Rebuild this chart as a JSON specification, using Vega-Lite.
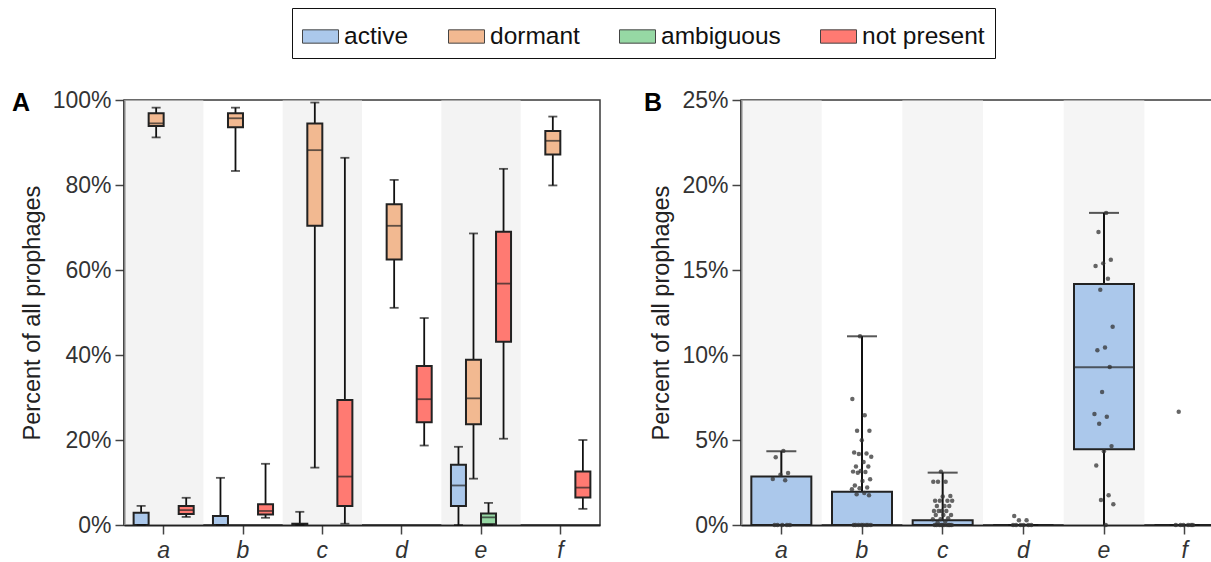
{
  "$schema": "https://vega.github.io/schema/vega-lite/v6.json",
  "autosize": "none",
  "padding": {"left": 124, "top": 100, "right": 1087, "bottom": 462},
  "config": {
    "font": "Liberation Sans",
    "view": {"stroke": "#3a3a3a", "strokeWidth": 1.5},
    "axis": {"domainColor": "#222", "domainWidth": 2, "tickColor": "#444", "tickWidth": 1.5, "tickSize": 9, "labelFontSize": 23, "labelColor": "#333", "titleFontSize": 23.5, "titleFontWeight": "normal", "titleColor": "#222", "grid": false, "labelPadding": 4, "zindex": 1}
  },
  "datasets": {
    "bands": [{"category": "a"}, {"category": "c"}, {"category": "e"}],
    "stats": [
      {"category": "a", "status": "active", "lower": 0, "q1": 0, "median": 0, "q3": 2.9, "upper": 4.5},
      {"category": "a", "status": "dormant", "lower": 91.2, "q1": 93.9, "median": 94.5, "q3": 96.9, "upper": 98.2},
      {"category": "a", "status": "not present", "lower": 1.9, "q1": 2.6, "median": 3.5, "q3": 4.5, "upper": 6.4},
      {"category": "b", "status": "active", "lower": 0, "q1": 0, "median": 0, "q3": 2.1, "upper": 11.1},
      {"category": "b", "status": "dormant", "lower": 83.3, "q1": 93.6, "median": 95.7, "q3": 96.9, "upper": 98.2},
      {"category": "b", "status": "not present", "lower": 1.7, "q1": 2.5, "median": 3.3, "q3": 4.9, "upper": 14.4},
      {"category": "c", "status": "active", "lower": 0, "q1": 0, "median": 0, "q3": 0.3, "upper": 3.1},
      {"category": "c", "status": "dormant", "lower": 13.5, "q1": 70.4, "median": 88.2, "q3": 94.5, "upper": 99.4},
      {"category": "c", "status": "not present", "lower": 0.3, "q1": 4.5, "median": 11.4, "q3": 29.4, "upper": 86.4},
      {"category": "d", "status": "dormant", "lower": 51.1, "q1": 62.5, "median": 70.4, "q3": 75.5, "upper": 81.2},
      {"category": "d", "status": "not present", "lower": 18.7, "q1": 24.2, "median": 29.6, "q3": 37.4, "upper": 48.7},
      {"category": "e", "status": "active", "lower": 0, "q1": 4.5, "median": 9.3, "q3": 14.2, "upper": 18.4},
      {"category": "e", "status": "dormant", "lower": 10.9, "q1": 23.7, "median": 29.8, "q3": 38.9, "upper": 68.6},
      {"category": "e", "status": "ambiguous", "lower": 0, "q1": 0.2, "median": 1.8, "q3": 2.7, "upper": 5.2},
      {"category": "e", "status": "not present", "lower": 20.3, "q1": 43.1, "median": 56.8, "q3": 69.0, "upper": 83.8},
      {"category": "f", "status": "dormant", "lower": 79.9, "q1": 87.2, "median": 90.4, "q3": 92.7, "upper": 96.1},
      {"category": "f", "status": "not present", "lower": 3.8, "q1": 6.5, "median": 8.8, "q3": 12.6, "upper": 20.0}
    ],
    "bstats": [
      {"category": "a", "status": "active", "lower": 0, "q1": 0, "median": 0, "q3": 2.85, "upper": 4.34},
      {"category": "b", "status": "active", "lower": 0, "q1": 0, "median": 0, "q3": 1.95, "upper": 11.1},
      {"category": "c", "status": "active", "lower": 0, "q1": 0, "median": 0, "q3": 0.28, "upper": 3.08},
      {"category": "d", "status": "active", "lower": 0, "q1": 0, "median": 0, "q3": 0, "upper": 0},
      {"category": "e", "status": "active", "lower": 0, "q1": 4.46, "median": 9.28, "q3": 14.17, "upper": 18.36},
      {"category": "f", "status": "active", "lower": 0, "q1": 0, "median": 0, "q3": 0, "upper": 0}
    ],
    "points": [
      {"category": "a", "value": 4.36}, {"category": "a", "value": 3.98}, {"category": "a", "value": 3.06}, {"category": "a", "value": 2.95}, {"category": "a", "value": 2.7}, {"category": "a", "value": 2.63},
      {"category": "a", "value": 0}, {"category": "a", "value": 0}, {"category": "a", "value": 0}, {"category": "a", "value": 0}, {"category": "a", "value": 0},
      {"category": "b", "value": 11.1}, {"category": "b", "value": 7.41}, {"category": "b", "value": 6.45}, {"category": "b", "value": 5.54}, {"category": "b", "value": 5.54}, {"category": "b", "value": 4.99},
      {"category": "b", "value": 4.26}, {"category": "b", "value": 4.2}, {"category": "b", "value": 4.17}, {"category": "b", "value": 4.01}, {"category": "b", "value": 3.71}, {"category": "b", "value": 3.44},
      {"category": "b", "value": 3.44}, {"category": "b", "value": 3.18}, {"category": "b", "value": 3.14}, {"category": "b", "value": 3.12}, {"category": "b", "value": 3.08}, {"category": "b", "value": 2.69},
      {"category": "b", "value": 2.59}, {"category": "b", "value": 2.32}, {"category": "b", "value": 2.2}, {"category": "b", "value": 2.16}, {"category": "b", "value": 2.1}, {"category": "b", "value": 1.88},
      {"category": "b", "value": 1.81}, {"category": "b", "value": 1.75},
      {"category": "b", "value": 0}, {"category": "b", "value": 0}, {"category": "b", "value": 0}, {"category": "b", "value": 0}, {"category": "b", "value": 0}, {"category": "b", "value": 0}, {"category": "b", "value": 0}, {"category": "b", "value": 0},
      {"category": "c", "value": 3.14}, {"category": "c", "value": 2.54}, {"category": "c", "value": 2.54}, {"category": "c", "value": 2.54}, {"category": "c", "value": 1.71}, {"category": "c", "value": 1.67},
      {"category": "c", "value": 1.42}, {"category": "c", "value": 1.42}, {"category": "c", "value": 1.42}, {"category": "c", "value": 1.42},
      {"category": "c", "value": 1.12}, {"category": "c", "value": 1.12}, {"category": "c", "value": 1.12},
      {"category": "c", "value": 0.83}, {"category": "c", "value": 0.83}, {"category": "c", "value": 0.83}, {"category": "c", "value": 0.83},
      {"category": "c", "value": 0.59}, {"category": "c", "value": 0.59}, {"category": "c", "value": 0.59},
      {"category": "c", "value": 0.4}, {"category": "c", "value": 0.34}, {"category": "c", "value": 0.34}, {"category": "c", "value": 0.2}, {"category": "c", "value": 0.15},
      {"category": "c", "value": 0}, {"category": "c", "value": 0}, {"category": "c", "value": 0}, {"category": "c", "value": 0}, {"category": "c", "value": 0}, {"category": "c", "value": 0}, {"category": "c", "value": 0}, {"category": "c", "value": 0}, {"category": "c", "value": 0}, {"category": "c", "value": 0},
      {"category": "d", "value": 0.53}, {"category": "d", "value": 0.28}, {"category": "d", "value": 0.28},
      {"category": "d", "value": 0}, {"category": "d", "value": 0}, {"category": "d", "value": 0}, {"category": "d", "value": 0}, {"category": "d", "value": 0}, {"category": "d", "value": 0},
      {"category": "e", "value": 18.36}, {"category": "e", "value": 17.24}, {"category": "e", "value": 15.6}, {"category": "e", "value": 15.39}, {"category": "e", "value": 15.23}, {"category": "e", "value": 14.49},
      {"category": "e", "value": 13.84}, {"category": "e", "value": 11.66}, {"category": "e", "value": 10.44}, {"category": "e", "value": 10.28}, {"category": "e", "value": 9.3}, {"category": "e", "value": 7.82},
      {"category": "e", "value": 6.53}, {"category": "e", "value": 6.37}, {"category": "e", "value": 5.96}, {"category": "e", "value": 4.64}, {"category": "e", "value": 4.34}, {"category": "e", "value": 3.5},
      {"category": "e", "value": 1.75}, {"category": "e", "value": 1.47}, {"category": "e", "value": 1.22}, {"category": "e", "value": 0},
      {"category": "f", "value": 6.66},
      {"category": "f", "value": 0}, {"category": "f", "value": 0}, {"category": "f", "value": 0}, {"category": "f", "value": 0}, {"category": "f", "value": 0}, {"category": "f", "value": 0}
    ]
  },
  "resolve": {"scale": {"x": "independent", "y": "independent", "xOffset": "independent", "fill": "shared"}, "legend": {"fill": "shared"}},
  "spacing": 42,
  "hconcat": [
    {
      "width": 476,
      "height": 425,
      "title": {"text": "A", "anchor": "start", "frame": "group", "dx": -112, "dy": 47, "offset": 0, "fontSize": 25, "fontWeight": "bold", "color": "#000", "baseline": "alphabetic"},
      "layer": [
        {
          "data": {"name": "bands"},
          "mark": {"type": "rect", "color": "#e7e7e7", "opacity": 0.5},
          "encoding": {
            "x": {"field": "category", "type": "nominal", "scale": {"domain": ["a", "b", "c", "d", "e", "f"], "paddingInner": 0, "paddingOuter": 0},
              "axis": {"title": null, "labelAngle": 0, "labelFontStyle": "italic", "labelPadding": 5}}
          }
        },
        {
          "data": {"name": "stats"},
          "mark": {"type": "rule", "color": "#111", "strokeWidth": 1.8},
          "encoding": {
            "x": {"field": "category", "type": "nominal"},
            "xOffset": {"field": "status", "type": "nominal", "scale": {"domain": ["active", "dormant", "ambiguous", "not present"], "paddingOuter": 0.64, "paddingInner": 0}},
            "y": {"field": "lower", "type": "quantitative", "scale": {"domain": [0, 100], "nice": false},
              "axis": {"title": "Percent of all prophages", "values": [0, 20, 40, 60, 80, 100], "labelExpr": "datum.value + '%'", "titlePadding": 8}},
            "y2": {"field": "upper"}
          }
        },
        {
          "data": {"name": "stats"},
          "mark": {"type": "bar", "size": 15, "stroke": "#222", "strokeWidth": 2},
          "encoding": {
            "x": {"field": "category", "type": "nominal"},
            "xOffset": {"field": "status", "type": "nominal"},
            "y": {"field": "q1", "type": "quantitative"},
            "y2": {"field": "q3"},
            "fill": {"field": "status", "type": "nominal",
              "scale": {"domain": ["active", "dormant", "ambiguous", "not present"], "range": ["#abc8eb", "#f2b991", "#96d8a4", "#ff7a72"]},
              "legend": {"orient": "none", "legendX": 168, "legendY": -92, "direction": "horizontal", "title": null,
                "symbolType": "M-1,-0.37H1V0.37H-1Z", "symbolSize": 1296, "symbolStrokeColor": "#444", "symbolStrokeWidth": 1,
                "labelFontSize": 24.5, "labelColor": "#111", "columnPadding": 37, "labelOffset": 5, "padding": 10, "strokeColor": "#111"}}
          }
        },
        {
          "data": {"name": "stats"},
          "mark": {"type": "tick", "size": 15, "thickness": 1.8, "color": "#222"},
          "encoding": {
            "x": {"field": "category", "type": "nominal"},
            "xOffset": {"field": "status", "type": "nominal"},
            "y": {"field": "median", "type": "quantitative"}
          }
        },
        {
          "data": {"name": "stats"},
          "mark": {"type": "tick", "size": 9, "thickness": 1.8, "color": "#111"},
          "encoding": {
            "x": {"field": "category", "type": "nominal"},
            "xOffset": {"field": "status", "type": "nominal"},
            "y": {"field": "upper", "type": "quantitative"}
          }
        },
        {
          "data": {"name": "stats"},
          "mark": {"type": "tick", "size": 9, "thickness": 1.8, "color": "#111"},
          "encoding": {
            "x": {"field": "category", "type": "nominal"},
            "xOffset": {"field": "status", "type": "nominal"},
            "y": {"field": "lower", "type": "quantitative"}
          }
        }
      ]
    },
    {
      "width": 484,
      "height": 425,
      "title": {"text": "B", "anchor": "start", "frame": "group", "dx": -97, "dy": 47, "offset": 0, "fontSize": 25, "fontWeight": "bold", "color": "#000", "baseline": "alphabetic"},
      "resolve": {"scale": {"x": "independent", "xOffset": "independent"}, "axis": {"x": "independent"}},
      "layer": [
        {
          "layer": [
            {
              "data": {"name": "bands"},
              "mark": {"type": "rect", "color": "#ececec", "opacity": 0.5},
              "encoding": {
                "x": {"field": "category", "type": "nominal", "scale": {"domain": ["a", "b", "c", "d", "e", "f"], "paddingInner": 0, "paddingOuter": 0},
                  "axis": {"title": null, "labelAngle": 0, "labelFontStyle": "italic", "labelPadding": 5}}
              }
            },
            {
              "data": {"name": "bstats"},
              "mark": {"type": "rule", "color": "#111", "strokeWidth": 2},
              "encoding": {
                "x": {"field": "category", "type": "nominal"},
                "y": {"field": "lower", "type": "quantitative", "scale": {"domain": [0, 25], "nice": false},
                  "axis": {"title": "Percent of all prophages", "values": [0, 5, 10, 15, 20, 25], "labelExpr": "datum.value + '%'", "titlePadding": 8}},
                "y2": {"field": "upper"}
              }
            },
            {
              "data": {"name": "bstats"},
              "mark": {"type": "bar", "size": 60, "stroke": "#222", "strokeWidth": 2},
              "encoding": {
                "x": {"field": "category", "type": "nominal"},
                "y": {"field": "q1", "type": "quantitative"},
                "y2": {"field": "q3"},
                "fill": {"field": "status", "type": "nominal",
                  "scale": {"domain": ["active", "dormant", "ambiguous", "not present"], "range": ["#abc8eb", "#f2b991", "#96d8a4", "#ff7a72"]},
                  "legend": {"orient": "none", "legendX": 168, "legendY": -92, "direction": "horizontal", "title": null,
                    "symbolType": "M-1,-0.37H1V0.37H-1Z", "symbolSize": 1296, "symbolStrokeColor": "#444", "symbolStrokeWidth": 1,
                    "labelFontSize": 24.5, "labelColor": "#111", "columnPadding": 37, "labelOffset": 5, "padding": 10, "strokeColor": "#111"}}
              }
            },
            {
              "data": {"name": "bstats"},
              "mark": {"type": "tick", "size": 60, "thickness": 1.8, "color": "#222"},
              "encoding": {
                "x": {"field": "category", "type": "nominal"},
                "y": {"field": "median", "type": "quantitative"}
              }
            },
            {
              "data": {"name": "bstats"},
              "mark": {"type": "tick", "size": 30, "thickness": 2, "color": "#111"},
              "encoding": {
                "x": {"field": "category", "type": "nominal"},
                "y": {"field": "upper", "type": "quantitative"}
              }
            }
          ]
        },
        {
          "data": {"name": "points"},
          "transform": [
            {"window": [{"op": "row_number", "as": "rn"}]},
            {"calculate": "((datum.rn * 0.618034) % 1) * 2 - 1", "as": "jit"}
          ],
          "mark": {"type": "circle", "size": 20, "color": "#333", "opacity": 0.75},
          "encoding": {
            "x": {"field": "category", "type": "nominal", "scale": {"domain": ["a", "b", "c", "d", "e", "f"], "paddingInner": 0, "paddingOuter": 0}, "axis": null},
            "xOffset": {"field": "jit", "type": "quantitative", "scale": {"domain": [-1, 1], "range": [30, 50]}},
            "y": {"field": "value", "type": "quantitative"}
          }
        }
      ]
    }
  ]
}
